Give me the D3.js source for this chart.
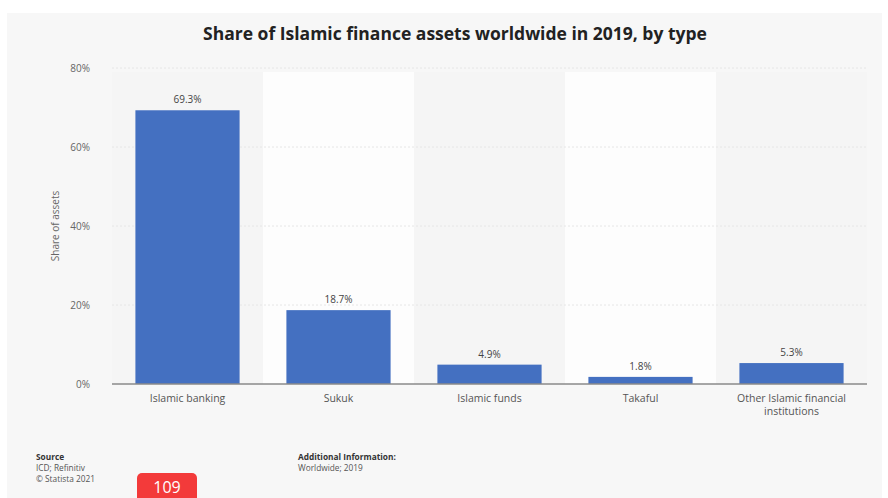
<!DOCTYPE html>
<html><head><meta charset="utf-8">
<script src="https://cdn.jsdelivr.net/npm/d3@7"></script>
<style>body{margin:0;background:#fff;font-family:"Open Sans",Roboto,sans-serif;}</style>
</head><body><svg id="c" width="888" height="498"></svg>
<script>
const categories = ["Islamic banking","Sukuk","Islamic funds","Takaful","Other Islamic financial institutions"];
const values = [69.3, 18.7, 4.9, 1.8, 5.3];
const valueLabels = ["69.3%","18.7%","4.9%","1.8%","5.3%"];
const yTicks = [0,20,40,60,80];
const title = "Share of Islamic finance assets worldwide in 2019, by type";

const svg = d3.select("#c");
svg.append("rect").attr("x",7).attr("y",13).attr("width",875).attr("height",485).attr("fill","#f7f7f7");

const m = {l:112, r:867, t:68, b:384};
const x = d3.scaleBand().domain(categories).range([m.l,m.r]).paddingInner(0.31).paddingOuter(0.155);
const xb = d3.scaleBand().domain(categories).range([m.l,m.r]);
const y = d3.scaleLinear().domain([0,80]).range([m.b,m.t]);

// alternating bands
svg.append("g").selectAll("rect").data(categories).join("rect")
  .attr("x",d=>xb(d)).attr("width",xb.bandwidth())
  .attr("y",y(80)+4).attr("height",m.b-y(80)-4)
  .attr("fill",(d,i)=> i%2 ? "#fdfdfd" : "#f5f5f5");

// grid
svg.append("g").selectAll("line").data(yTicks.slice(1)).join("line")
  .attr("x1",m.l).attr("x2",m.r).attr("y1",d=>y(d)).attr("y2",d=>y(d))
  .attr("stroke","#e6e6e6").attr("stroke-dasharray","2,2");

// y axis
const ya = svg.append("g").attr("transform",`translate(${m.l-19},0)`)
  .call(d3.axisLeft(y).tickValues(yTicks).tickFormat(d=>d+"%").tickSize(0));
ya.select(".domain").remove();
ya.selectAll("text").attr("fill","#666").style("font-size","10px").style("font-family","'Open Sans',sans-serif");

svg.append("text").attr("transform",`translate(59,${y(40)}) rotate(-90)`)
  .attr("text-anchor","middle").attr("fill","#666").style("font-size","10px").text("Share of assets");

// bars
svg.append("g").selectAll("rect").data(values).join("rect")
  .attr("x",(d,i)=>x(categories[i])).attr("width",x.bandwidth())
  .attr("y",d=>y(d)).attr("height",d=>m.b-y(d)).attr("fill","#4470c1");

svg.append("g").selectAll("text").data(values).join("text")
  .attr("x",(d,i)=>x(categories[i])+x.bandwidth()/2).attr("y",d=>y(d)-7)
  .attr("text-anchor","middle").attr("fill","#444").style("font-size","10px")
  .text((d,i)=>valueLabels[i]);

// x axis
svg.append("line").attr("x1",m.l).attr("x2",m.r).attr("y1",m.b).attr("y2",m.b).attr("stroke","#8a8a8a").attr("stroke-width",1.3);
const xa = svg.append("g");
categories.forEach(c=>{
  const lines = c === "Other Islamic financial institutions" ? ["Other Islamic financial","institutions"] : [c];
  const t = xa.append("text").attr("x",x(c)+x.bandwidth()/2).attr("y",m.b+18)
    .attr("text-anchor","middle").attr("fill","#555").style("font-size","10.5px");
  lines.forEach((l,i)=>t.append("tspan").attr("x",x(c)+x.bandwidth()/2).attr("dy",i?12.5:0).text(l));
});

// title
svg.append("text").attr("x",455).attr("y",40).attr("text-anchor","middle")
  .attr("fill","#222").style("font-size","17.5px").style("font-weight","bold").text(title);

// footer
const f = svg.append("g").style("font-size","8.3px").attr("fill","#555");
f.append("text").attr("x",36).attr("y",460).style("font-weight","bold").attr("fill","#333").text("Source");
f.append("text").attr("x",36).attr("y",471).text("ICD; Refinitiv");
f.append("text").attr("x",36).attr("y",482).text("© Statista 2021");
f.append("text").attr("x",298).attr("y",460).style("font-weight","bold").attr("fill","#333").text("Additional Information:");
f.append("text").attr("x",298).attr("y",471).text("Worldwide; 2019");

// badge
svg.append("rect").attr("x",137).attr("y",473).attr("width",60).attr("height",32).attr("rx",5).attr("fill","#f33a3a");
svg.append("text").attr("x",167).attr("y",493).attr("text-anchor","middle").attr("fill","#fff").style("font-size","16px").text("109");
</script></body></html>
